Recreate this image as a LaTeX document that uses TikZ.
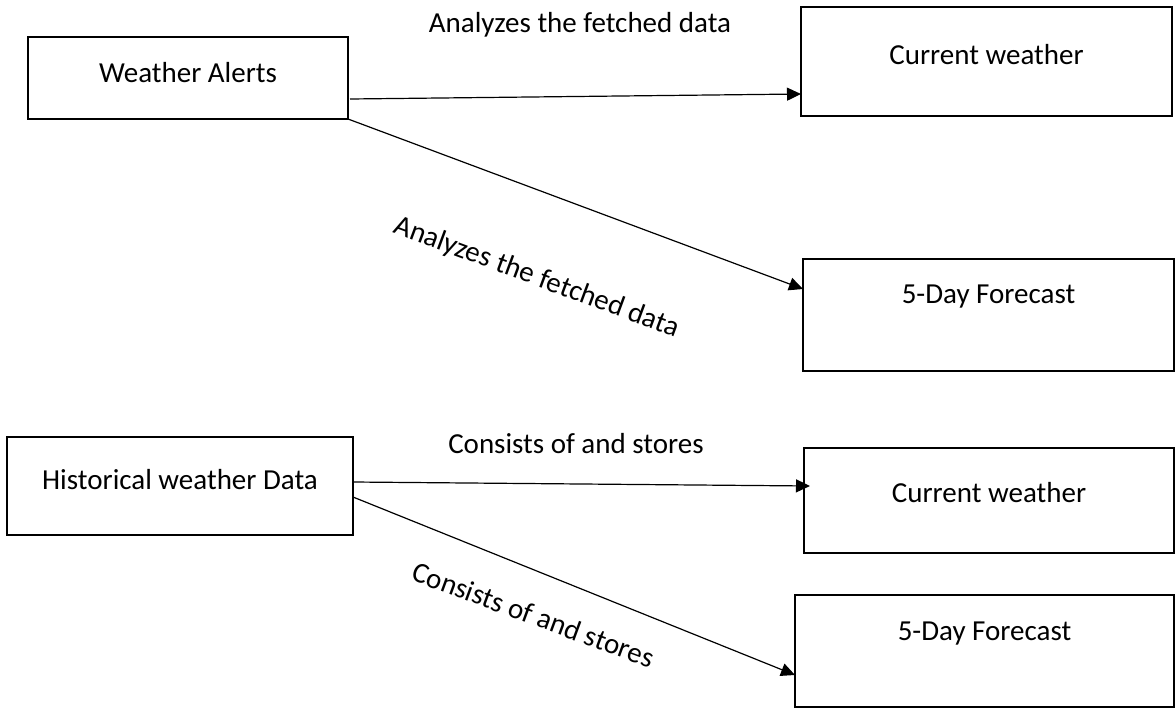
\documentclass[tikz,border=0pt]{standalone}
\usepackage{fontspec}
\setmainfont{Carlito}
\usetikzlibrary{arrows.meta,calc}
\tikzset{
  box/.style={draw, line width=2.6pt, inner xsep=0pt, inner ysep=0pt, outer sep=0pt,
              anchor=north west, font=\fontsize{29}{34}\selectfont},
  link/.style={line width=1.2pt, -{Triangle[length=14pt,width=13pt]}},
  tag/.style={anchor=base, inner sep=0pt, font=\fontsize{29}{34}\selectfont}
}
\begin{document}
\begin{tikzpicture}[x=1pt, y=-1pt]
\useasboundingbox (0,0) rectangle (1176,709);

% upper group
\node[box, minimum width=320, text height=46, text depth=36] (wa)  at (28,37)   {Weather Alerts};
\node[box, minimum width=371, text height=58, text depth=51] (cw1) at (801,7)   {Current weather};
\node[box, minimum width=371, text height=44, text depth=68] (fc1) at (803,259) {5-Day Forecast};

% lower group
\node[box, minimum width=346, text height=52, text depth=46] (hw)  at (7,437)   {Historical weather Data};
\node[box, minimum width=370, text height=54, text depth=51] (cw2) at (804,448) {Current weather};
\node[box, minimum width=379, text height=45, text depth=67] (fc2) at (795,595) {5-Day Forecast};

% connectors
\draw[link] ($(wa.north east)+(2,62)$) -- ($(cw1.south west)+(0,-22)$);
\draw[link] (wa.south east) -- ($(fc1.north west)+(0,30)$);
\draw[link] ($(hw.north east)+(0,45)$) -- ($(cw2.north west)+(6,38)$);
\draw[link] ($(hw.north east)+(0,60)$) -- ($(fc2.north west)+(0,80)$);

% connector labels
\node[tag] (l1) at (580,33)  {Analyzes the fetched data};
\node[tag, rotate=-20.4] (l2) at (534,285) {Analyzes the fetched data};
\node[tag] (l3) at (576,453) {Consists of and stores};
\node[tag, rotate=-20.3] (l4) at (530,624) {Consists of and stores};
\end{tikzpicture}
\end{document}
